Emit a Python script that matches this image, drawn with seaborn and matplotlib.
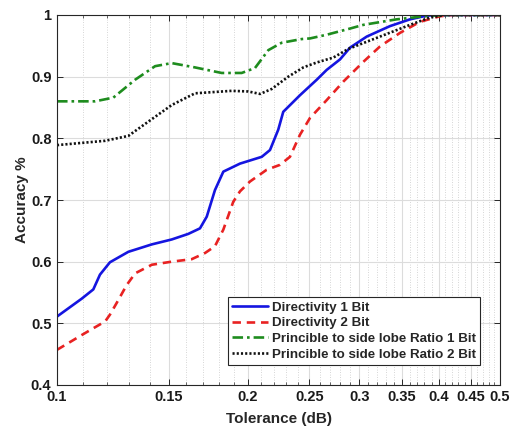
import numpy as np
import pandas as pd
import matplotlib
matplotlib.use("Agg")
import matplotlib.pyplot as plt
import seaborn as sns
from matplotlib.ticker import FixedLocator, NullFormatter, FixedFormatter

# ---- data ----
dir1_x = [0.100, 0.1094, 0.1141, 0.1169, 0.1212, 0.1296, 0.1411, 0.1517, 0.1611, 0.1681,
          0.1723, 0.1775, 0.1830, 0.1944, 0.2104, 0.2168, 0.2234, 0.2275, 0.2418, 0.2569,
          0.2664, 0.2796, 0.2899, 0.3081, 0.3353, 0.3606, 0.3831, 0.400, 0.500]
dir1_y = [0.511, 0.540, 0.555, 0.579, 0.599, 0.616, 0.628, 0.636, 0.645, 0.654,
          0.673, 0.716, 0.746, 0.759, 0.770, 0.781, 0.814, 0.843, 0.870, 0.895,
          0.911, 0.928, 0.947, 0.965, 0.982, 0.993, 0.999, 1.000, 1.000]

dir2_x = [0.100, 0.1094, 0.1141, 0.1191, 0.1212, 0.1242, 0.1288, 0.1328, 0.1411, 0.1517,
          0.1631, 0.1712, 0.1775, 0.1830, 0.1897, 0.1944, 0.2016, 0.2142, 0.2248, 0.2331,
          0.2418, 0.2507, 0.2664, 0.2830, 0.3043, 0.3233, 0.3477, 0.3739, 0.4021, 0.420, 0.500]
dir2_y = [0.457, 0.481, 0.492, 0.503, 0.514, 0.533, 0.562, 0.581, 0.595, 0.600,
          0.604, 0.614, 0.625, 0.652, 0.697, 0.714, 0.730, 0.749, 0.757, 0.770,
          0.806, 0.833, 0.862, 0.892, 0.924, 0.949, 0.971, 0.989, 0.998, 1.000, 1.000]

psl1_x = [0.100, 0.1148, 0.1227, 0.1328, 0.1428, 0.1517, 0.1651, 0.1819, 0.1956, 0.2053,
          0.2155, 0.2262, 0.2433, 0.2507, 0.2664, 0.2899, 0.3043, 0.3436, 0.3878, 0.420, 0.500]
psl1_y = [0.860, 0.860, 0.866, 0.895, 0.917, 0.922, 0.915, 0.906, 0.906, 0.914,
          0.943, 0.955, 0.961, 0.962, 0.968, 0.978, 0.984, 0.993, 0.999, 1.000, 1.000]

psl2_x = [0.100, 0.1191, 0.1296, 0.1393, 0.1517, 0.1651, 0.1886, 0.2004, 0.2091, 0.2181,
          0.2317, 0.2447, 0.2569, 0.2729, 0.2882, 0.3233, 0.3606, 0.3878, 0.410, 0.500]
psl2_y = [0.789, 0.796, 0.804, 0.827, 0.854, 0.873, 0.877, 0.876, 0.872, 0.880,
          0.900, 0.915, 0.923, 0.931, 0.945, 0.965, 0.984, 0.996, 1.000, 1.000]

labels = ["Directivity 1 Bit", "Directivity 2 Bit",
          "Princible to side lobe Ratio 1 Bit", "Princible to side lobe Ratio 2 Bit"]
x_ticks = [0.1, 0.15, 0.2, 0.25, 0.3, 0.35, 0.4, 0.45, 0.5]
x_tick_labels = ["0.1", "0.15", "0.2", "0.25", "0.3", "0.35", "0.4", "0.45", "0.5"]
y_ticks = [0.4, 0.5, 0.6, 0.7, 0.8, 0.9, 1.0]
y_tick_labels = ["0.4", "0.5", "0.6", "0.7", "0.8", "0.9", "1"]

sns.set_style("ticks")
plt.rcParams["font.family"] = ["Liberation Sans", "DejaVu Sans"]
plt.rcParams["font.weight"] = "bold"
plt.rcParams["axes.labelweight"] = "bold"

fig = plt.figure(figsize=(5.16, 4.29), dpi=100)
ax = fig.add_axes([57/516, 1 - 385/429, (500-57)/516, (385-15)/429])

series = [
    (dir1_x, dir1_y, labels[0], "#1515e0", "-"),
    (dir2_x, dir2_y, labels[1], "#e82222", (0, (3.2, 2.2))),
    (psl1_x, psl1_y, labels[2], "#1e8c1e", (0, (4, 1.5, 1, 1.5))),
    (psl2_x, psl2_y, labels[3], "#111111", (0, (0.8, 0.8))),
]
for xs, ys, lab, col, ls in series:
    df = pd.DataFrame({"x": xs, "y": ys})
    sns.lineplot(data=df, x="x", y="y", ax=ax, color=col, linewidth=1.9,
                 label=lab, linestyle=ls, estimator=None, sort=True)

ax.set_xscale("log")
ax.set_xlim(0.1, 0.5)
ax.set_ylim(0.4, 1.0)
ax.xaxis.set_major_locator(FixedLocator(x_ticks))
ax.xaxis.set_major_formatter(FixedFormatter(x_tick_labels))
minor = [round(0.1 + 0.01*i, 2) for i in range(41)]
minor = [m for m in minor if all(abs(m - t) > 1e-9 for t in x_ticks)]
ax.xaxis.set_minor_locator(FixedLocator(minor))
ax.xaxis.set_minor_formatter(NullFormatter())
ax.set_yticks(y_ticks)
ax.set_yticklabels(y_tick_labels)

ax.grid(True, which="major", color="#dcdcdc", linewidth=0.8, linestyle="-")
ax.grid(True, which="minor", axis="x", color="#c8c8c8", linewidth=0.6, linestyle=(0, (1, 2)))
ax.set_axisbelow(True)

ax.tick_params(which="both", direction="in", top=True, right=True, labelsize=10.5,
               colors="#262626", labelcolor="#1a1a1a")
ax.tick_params(which="major", length=4, width=0.7)
ax.tick_params(which="minor", length=2, width=0.5)
ax.tick_params(axis="y", pad=4)
for sp in ax.spines.values():
    sp.set_visible(True)
    sp.set_color("#262626")
    sp.set_linewidth(0.8)

ax.set_xlabel("Tolerance (dB)", fontsize=11, fontweight="bold", labelpad=6)
ax.set_ylabel("Accuracy %", fontsize=11, fontweight="bold", labelpad=1)

leg = ax.legend(loc="lower right", bbox_to_anchor=(0.955, 0.055), fontsize=9.6,
                frameon=True, fancybox=False, edgecolor="#262626", framealpha=1,
                handlelength=2.7, handletextpad=0.3, borderpad=0.3, labelspacing=0.25,
                borderaxespad=0.0)
leg.get_frame().set_linewidth(0.8)
for t in leg.get_texts():
    t.set_fontweight("bold")

fig.savefig("out.png", dpi=100)
